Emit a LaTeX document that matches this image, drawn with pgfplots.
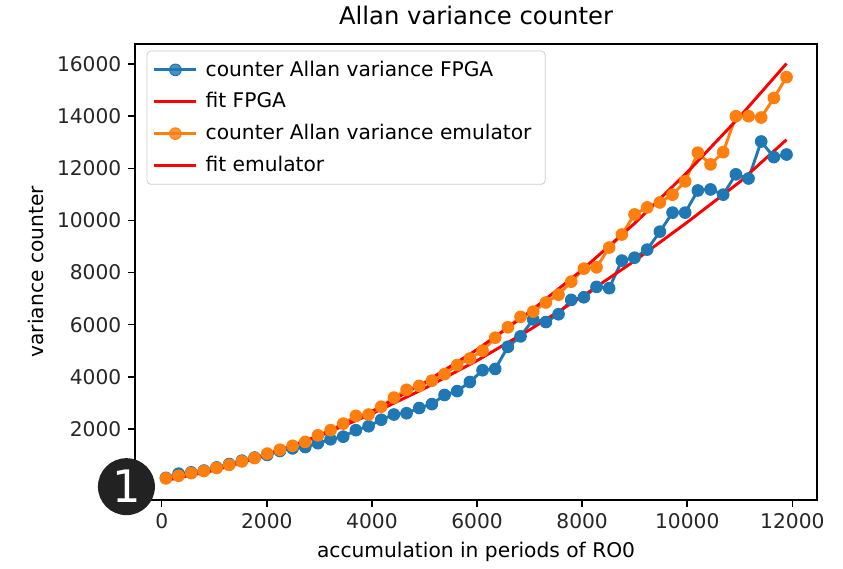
\documentclass[border=0pt]{standalone}
\usepackage{pgfplots}
\pgfplotsset{compat=1.18}
\usepackage{pgfplotstable}
\usepackage{fontspec}
\setmainfont{DejaVu Sans}
\definecolor{mplblue}{HTML}{1F77B4}
\definecolor{mplorange}{HTML}{FF7F0E}
\definecolor{badge}{HTML}{222222}

\pgfplotstableread{
x b o
80 120 100
321 280 200
562 330 300
803 400 380
1044 520 500
1285 650 620
1526 780 750
1767 900 880
2008 1000 1050
2249 1150 1200
2490 1250 1350
2731 1300 1500
2972 1450 1750
3213 1600 1950
3454 1700 2200
3695 1950 2500
3936 2100 2550
4177 2350 2850
4418 2550 3200
4659 2600 3500
4900 2800 3650
5141 2950 3850
5382 3300 4100
5623 3450 4450
5864 3800 4700
6105 4250 5000
6346 4300 5500
6587 5150 5900
6828 5550 6300
7069 6200 6500
7310 6100 6850
7551 6400 7150
7792 6950 7650
8033 7050 8150
8274 7450 8200
8515 7400 8960
8756 8460 9460
8997 8570 10230
9238 8880 10500
9479 9570 10690
9720 10300 10990
9961 10300 11500
10202 11150 12600
10443 11190 12150
10684 10990 12620
10925 11770 14000
11166 11610 14000
11407 13030 13950
11648 12430 14700
11889 12530 15500
}\datatable

\pgfplotstableread{
x fe ff
80 26 30
1000 409 420
2000 992 990
3000 1745 1720
4000 2673 2580
5000 3771 3550
6000 5042 4620
7000 6486 5800
8000 8101 7080
9000 9890 8450
10000 11850 9930
11000 13982 11480
11889 16023 13100
}\fittable

\begin{document}
\begin{tikzpicture}
\begin{axis}[
  name=ax,
  scale only axis,
  width=349.6bp, height=233.7bp,
  xmin=-508, xmax=12470,
  ymin=-720, ymax=16780,
  scaled ticks=false,
  xtick={0,2000,4000,6000,8000,10000,12000},
  ytick={0,2000,4000,6000,8000,10000,12000,14000,16000},
  yticklabels={,2000,4000,6000,8000,10000,12000,14000,16000},
  /pgf/number format/1000 sep={},
  /pgf/number format/assume math mode=true,
  tick label style={font=\fontsize{10.4}{12}\selectfont, color=black!85},
  tick align=outside,
  xtick pos=bottom, ytick pos=left,
  major tick length=3.5pt,
  every tick/.style={black, line width=0.8pt},
  axis line style={line width=0.8pt, black},
  title={Allan variance counter},
  title style={font=\fontsize{12.5}{14}\selectfont, yshift=0pt},
  xlabel={accumulation in periods of RO0},
  ylabel={variance counter},
  label style={font=\fontsize{10.4}{12}\selectfont},
  legend style={at={(0,1)}, anchor=north west, xshift=6bp, yshift=-3.5bp,
    draw=black!20, rounded corners=2pt, fill=white, fill opacity=0.8, text opacity=1,
    font=\fontsize{10.4}{12}\selectfont, row sep=3pt, inner sep=3pt,
    nodes={inner xsep=4pt}},
  legend cell align=left,
  legend image code/.code={\draw[mark repeat=2,mark phase=2] plot coordinates {(0cm,0cm) (0.38cm,0cm) (0.76cm,0cm)};},
  clip=true,
]
\addplot[mplblue, line width=1.5pt, mark=*, mark size=3pt, mark options={solid, fill=mplblue, line width=0.5pt}] table[x=x, y=b] {\datatable};
\addlegendentry{counter Allan variance FPGA}
\addplot[red, line width=1.5pt, no marks] table[x=x, y=ff] {\fittable};
\addlegendentry{fit FPGA}
\addplot[mplorange, line width=1.5pt, mark=*, mark size=3pt, mark options={solid, fill=mplorange, line width=0.5pt}] table[x=x, y=o] {\datatable};
\addlegendentry{counter Allan variance emulator}
\addplot[red, line width=1.5pt, no marks] table[x=x, y=fe] {\fittable};
\addlegendentry{fit emulator}
\end{axis}
\fill[badge] ([xshift=-4.4bp, yshift=6.7bp]ax.south west) circle[radius=14.6bp];
\node[white, font=\fontsize{23}{23}\selectfont] at ([xshift=-4.4bp, yshift=6.7bp]ax.south west) {1};
\path ([xshift=-69.2bp, yshift=-34.3bp]ax.south west) rectangle ([xshift=13.3bp, yshift=20bp]ax.north east);
\end{tikzpicture}
\end{document}
